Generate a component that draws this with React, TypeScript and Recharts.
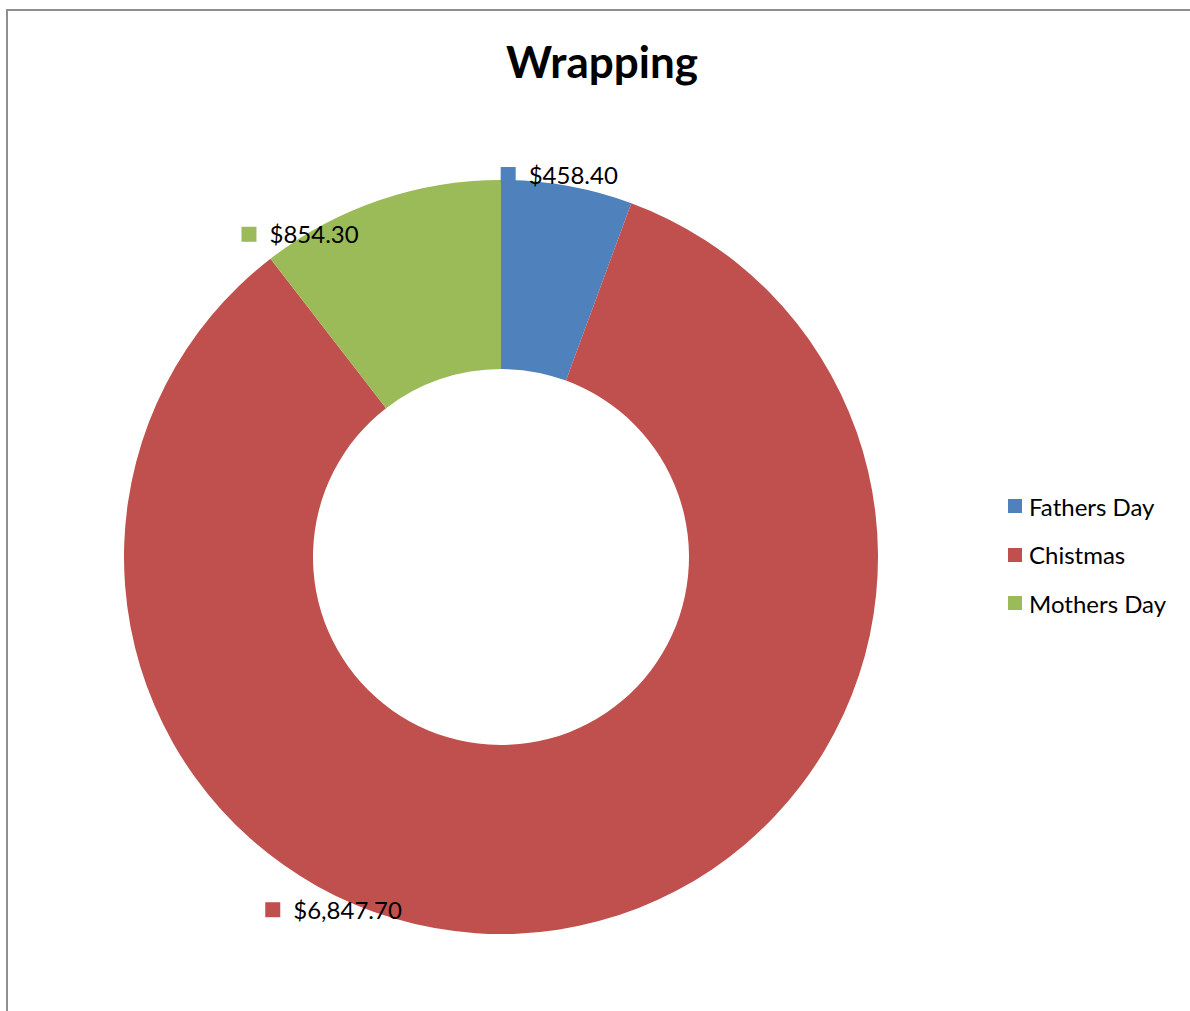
import { PieChart, Pie, Cell, Legend } from 'recharts';

const categories = ['Fathers Day', 'Chistmas', 'Mothers Day'];
const amounts = [458.4, 6847.7, 854.3];
const colors = ['#4F81BD', '#C0504D', '#9BBB59'];

const data = categories.map((name, i) => ({ name, value: amounts[i] }));

// where Excel put the data labels: angle (clockwise from top) and radius as a share of the outer radius
const labelPlacement = [
  { angle: 1, radius: 1.016 },
  { angle: 213, radius: 1.114 },
  { angle: -38, radius: 1.088 },
];

const FONT = 'Lato, "Liberation Sans", sans-serif';

const money = (v: number) =>
  '$' + v.toLocaleString('en-US', { minimumFractionDigits: 2, maximumFractionDigits: 2 });

const SquareLabel = (props: any) => {
  const { cx, cy, outerRadius, index, value } = props;
  const p = labelPlacement[index];
  const rad = (p.angle * Math.PI) / 180;
  const r = outerRadius * p.radius;
  const x = cx + r * Math.sin(rad);
  const y = cy - r * Math.cos(rad);
  return (
    <g>
      <rect x={x - 7} y={y - 7} width={15} height={15} fill={colors[index]} />
      <text
        x={x + 21}
        y={y}
        dominantBaseline="central"
        fontFamily={FONT}
        fontSize={24}
        fill="#000"
      >
        {money(value)}
      </text>
    </g>
  );
};

const LegendList = () => (
  <div style={{ fontFamily: FONT, fontSize: 24, color: '#000' }}>
    {categories.map((c, i) => (
      <div key={c} style={{ display: 'flex', alignItems: 'center', height: 48.5 }}>
        <span
          style={{ width: 14, height: 14, background: colors[i], display: 'inline-block', marginRight: 7 }}
        />
        <span>{c}</span>
      </div>
    ))}
  </div>
);

export default function App() {
  return (
    <div style={{ position: 'absolute', left: 0, top: 0, width: 1190, height: 1011, overflow: 'hidden', background: '#fff' }}>
      <div
        style={{
          position: 'absolute',
          left: 6,
          top: 9,
          width: 1300,
          height: 1100,
          borderTop: '2px solid #8f8f8f',
          borderLeft: '2px solid #8f8f8f',
        }}
      />
      <div
        style={{
          position: 'absolute',
          left: 0,
          top: 34,
          width: 1204,
          textAlign: 'center',
          fontFamily: FONT,
          fontWeight: 700,
          fontSize: 44,
          lineHeight: '54px',
        }}
      >
        Wrapping
      </div>
      <div style={{ position: 'absolute', left: 0, top: 0 }}>
        <PieChart width={1190} height={1011}>
          <Pie
            data={data}
            dataKey="value"
            nameKey="name"
            cx={496}
            cy={552}
            innerRadius={188}
            outerRadius={377}
            startAngle={90}
            endAngle={-270}
            stroke="none"
            label={SquareLabel}
            labelLine={false}
            isAnimationActive={false}
          >
            {data.map((d, i) => (
              <Cell key={d.name} fill={colors[i]} />
            ))}
          </Pie>
          <Legend
            content={<LegendList />}
            wrapperStyle={{ position: 'absolute', left: 1008, top: 482, width: 180, bottom: 'auto' }}
          />
        </PieChart>
      </div>
    </div>
  );
}
